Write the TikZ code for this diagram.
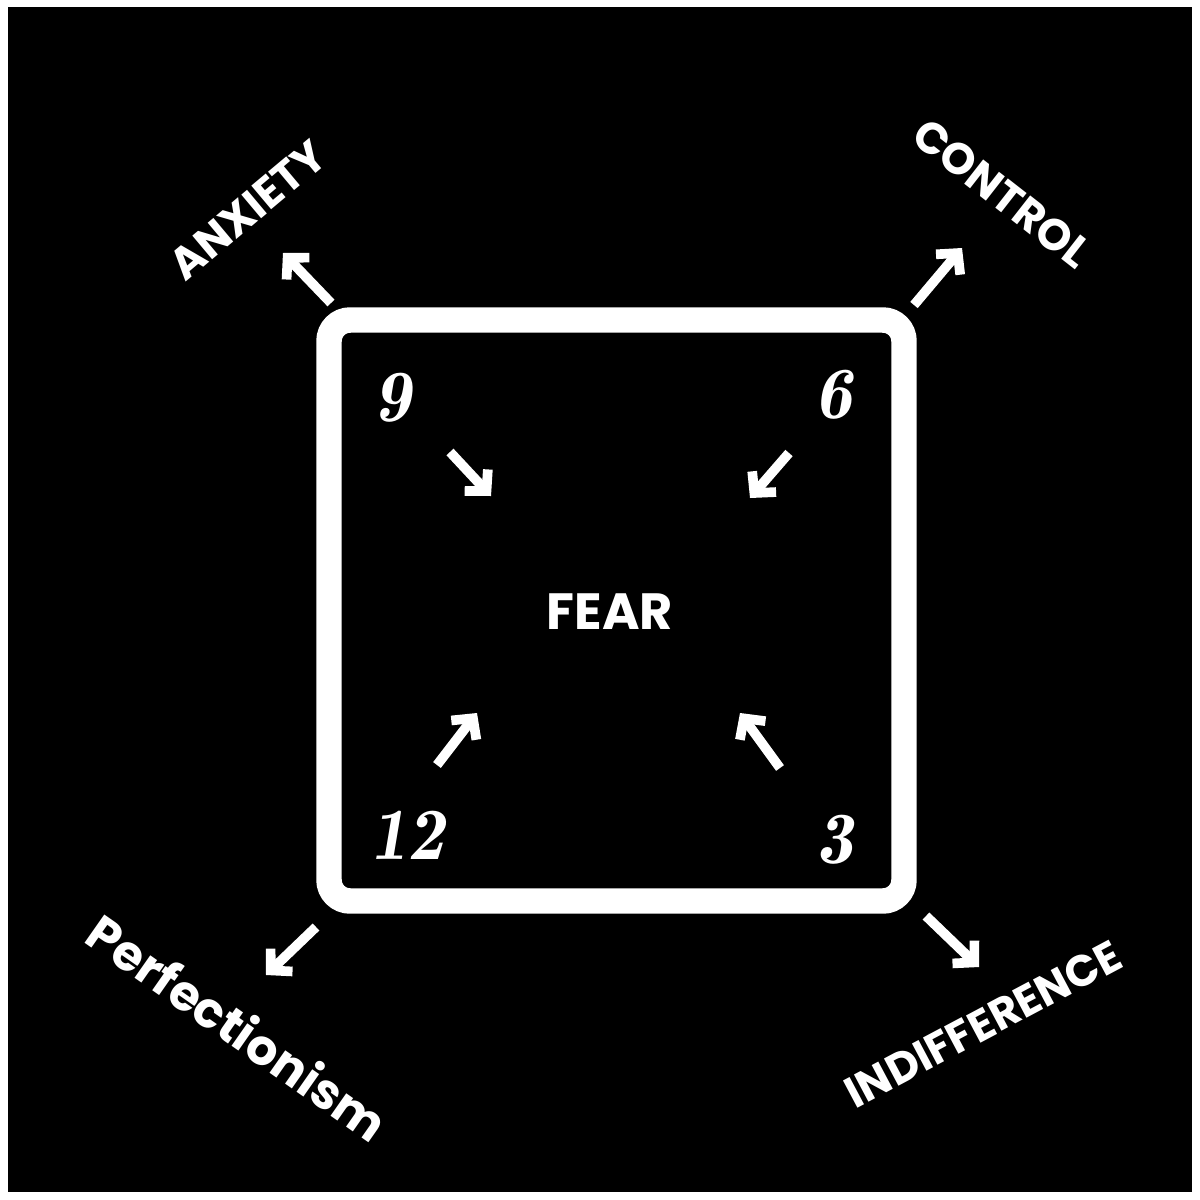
\documentclass[tikz,border=0pt]{standalone}
\usepackage{fontspec}
\setmainfont{Poppins}
\usetikzlibrary{arrows.meta}

\begin{document}
\begin{tikzpicture}[
  x=0.02cm, y=-0.02cm,
  >={Straight Barb[length=8.5pt, width=18pt, line join=miter]},
  lbl/.style={text=white, font=\fontsize{25}{29}\selectfont\bfseries, inner sep=0pt},
  num/.style={text=white, font=\fontfamily{lmr}\fontsize{42}{46}\selectfont\bfseries\itshape, inner sep=0pt},
  arr/.style={->, draw=white, line width=5.5pt},
  frame/.style={draw=white, line width=14.5pt, rounded corners=12pt}
]
\useasboundingbox (0,0) rectangle (1200,1200);
\fill[white] (0,0) rectangle (1200,1200);
\fill[black] (8,7) rectangle (1192,1192);

% the box
\draw[frame] (329,320) rectangle (904,901);
\node[lbl, font=\fontsize{29}{33}\selectfont\bfseries] (fear) at (610,612) {FEAR};

% corner numbers
\node[num] (n9)  at (393,398) {9};
\node[num] (n6)  at (834,395) {6};
\node[num] (n12) at (407,835) {12};
\node[num] (n3)  at (835,840) {3};

% inner arrows
\coordinate (a9s)  at (450,452); \coordinate (a9e)  at (491,496);
\coordinate (a6s)  at (789,453); \coordinate (a6e)  at (750,498);
\coordinate (a12s) at (437,765); \coordinate (a12e) at (477,713);
\coordinate (a3s)  at (780,768); \coordinate (a3e)  at (740,713);
\draw[arr] (a9s)  -- (a9e);
\draw[arr] (a6s)  -- (a6e);
\draw[arr] (a12s) -- (a12e);
\draw[arr] (a3s)  -- (a3e);

% outer arrows
\coordinate (oas) at (331,303); \coordinate (oae) at (283,253);
\coordinate (ocs) at (914,305); \coordinate (oce) at (962,248);
\coordinate (ops) at (316,927); \coordinate (ope) at (266,975);
\coordinate (ois) at (926,916); \coordinate (oie) at (979,967);
\draw[arr] (oas) -- (oae);
\draw[arr] (ocs) -- (oce);
\draw[arr] (ops) -- (ope);
\draw[arr] (ois) -- (oie);

% outer labels
\node[lbl, rotate=40]  (anx)  at (248,210)  {ANXIETY};
\node[lbl, rotate=-38] (ctrl) at (1002,193) {CONTROL};
\node[lbl, rotate=-35, font=\fontsize{28}{32}\selectfont\bfseries] (perf) at (238,1027) {Perfectionism};
\node[lbl, rotate=28]  (indf) at (983,1024) {INDIFFERENCE};
\end{tikzpicture}
\end{document}
